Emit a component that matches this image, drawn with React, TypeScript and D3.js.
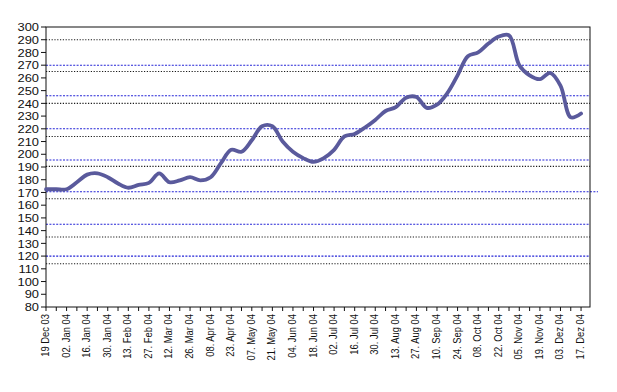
import React, { useEffect, useRef } from 'react';
import * as d3 from 'd3';

// weekly closing values, week 0 = 19 Dec 03
const weeks = d3.range(0, 53);
const values = [
  172.5, 172.5, 172.5, 178, 184, 185, 182, 177, 173.7, 176,
  177.5, 185, 178, 179.5, 182, 179.5, 182, 193, 203.5, 202,
  211, 222, 222, 210, 202, 197, 194, 197, 203.5, 214,
  216, 221, 227, 234, 237, 244.5, 245, 236.5, 239, 248,
  262, 277, 280, 287, 292.5, 293.5, 270, 262, 259, 264,
  254, 229, 232,
];

const tickLabels = [
  '19 Dec 03', '02. Jan 04', '16. Jan 04', '30. Jan 04', '13. Feb 04', '27. Feb 04',
  '12. Mar 04', '26. Mar 04', '08. Apr 04', '23. Apr 04', '07. May 04', '21. May 04',
  '04. Jun 04', '18. Jun 04', '02. Jul 04', '16. Jul 04', '30. Jul 04', '13. Aug 04',
  '27. Aug 04', '10. Sep 04', '24. Sep 04', '08. Oct 04', '22. Oct 04', '05. Nov 04',
  '19. Nov 04', '03. Dez 04', '17. Dez 04',
];

const yTicks = d3.range(80, 301, 10);
const blueLevels = [270, 246, 220, 195.5, 170.5, 145, 120];
const blackLevels = [290, 265, 240, 214, 190.5, 165, 135, 114];

const App = () => {
  const svgRef = useRef<SVGSVGElement>(null);

  useEffect(() => {
    const svg = d3.select(svgRef.current);
    svg.selectAll('*').remove();

    const left = 46;
    const right = 590;
    const top = 27;
    const bottom = 307;

    const x = d3.scaleLinear().domain([0, 52.87]).range([left, right]);
    const y = d3.scaleLinear().domain([80, 300]).range([bottom, top]);

    svg.append('rect')
      .attr('x', 0).attr('y', 0).attr('width', 617).attr('height', 392)
      .attr('fill', '#fff');

    // level lines
    svg.append('g')
      .selectAll('line')
      .data(blackLevels)
      .join('line')
      .attr('x1', left).attr('x2', right)
      .attr('y1', (d) => y(d)).attr('y2', (d) => y(d))
      .attr('stroke', '#1a1a1a')
      .attr('stroke-width', 1.1)
      .attr('stroke-dasharray', '1.2,1.6');

    svg.append('g')
      .selectAll('line')
      .data(blueLevels)
      .join('line')
      .attr('x1', left).attr('x2', (d) => (d === 170.5 ? 598 : right))
      .attr('y1', (d) => y(d)).attr('y2', (d) => y(d))
      .attr('stroke', '#2424d6')
      .attr('stroke-width', 1.1)
      .attr('stroke-dasharray', '2,1.4');

    // frame
    svg.append('rect')
      .attr('x', left).attr('y', top)
      .attr('width', right - left).attr('height', bottom - top)
      .attr('fill', 'none')
      .attr('stroke', '#111')
      .attr('stroke-width', 1);

    // y axis
    const yg = svg.append('g');
    yg.selectAll('line')
      .data(yTicks)
      .join('line')
      .attr('x1', left - 5).attr('x2', left)
      .attr('y1', (d) => y(d)).attr('y2', (d) => y(d))
      .attr('stroke', '#111');
    yg.selectAll('text')
      .data(yTicks)
      .join('text')
      .attr('transform', (d) => `translate(39,${y(d)}) scale(1.12,1)`)
      .attr('dy', '0.36em')
      .attr('text-anchor', 'end')
      .attr('font-family', '"Liberation Sans", Arial, sans-serif')
      .attr('font-size', 11.5)
      .attr('fill', '#111')
      .text((d) => d);

    // x axis
    const xg = svg.append('g');
    xg.selectAll('line')
      .data(weeks)
      .join('line')
      .attr('x1', (d) => x(d)).attr('x2', (d) => x(d))
      .attr('y1', bottom).attr('y2', bottom + 4)
      .attr('stroke', '#111');
    xg.selectAll('text')
      .data(tickLabels)
      .join('text')
      .attr('transform', (d, i) => `translate(${x(i * 2) + 3},314) scale(1.15,1) rotate(-90)`)
      .attr('text-anchor', 'end')
      .attr('font-family', '"Liberation Sans", Arial, sans-serif')
      .attr('font-size', 9.4)
      .attr('fill', '#111')
      .text((d) => d);

    // price line
    const line = d3.line<number>()
      .x((d, i) => x(weeks[i]))
      .y((d) => y(d))
      .curve(d3.curveCatmullRom.alpha(0.5));

    svg.append('path')
      .datum(values)
      .attr('d', line)
      .attr('fill', 'none')
      .attr('stroke', '#5a5a9c')
      .attr('stroke-width', 3.8)
      .attr('stroke-linejoin', 'round')
      .attr('stroke-linecap', 'round');
  }, []);

  return (
    <svg
      ref={svgRef}
      width="617"
      height="392"
      style={{ position: 'absolute', left: 0, top: 0 }}
    />
  );
};

export default App;
